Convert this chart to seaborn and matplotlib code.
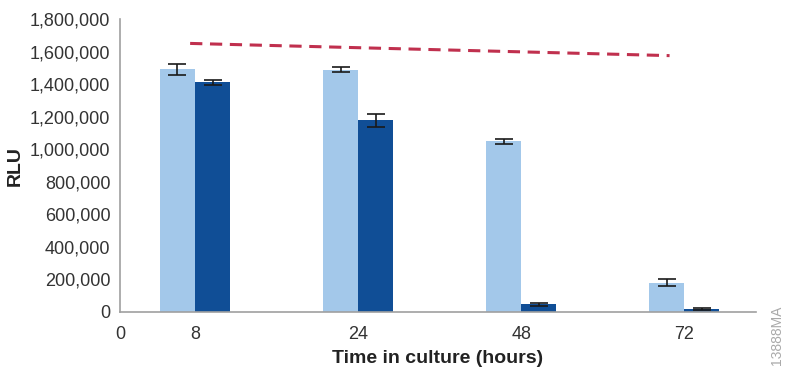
import pandas as pd
import seaborn as sns
import matplotlib.pyplot as plt
import matplotlib.ticker as ticker

# Data
hours = ['8', '24', '48', '72']
light_rlu = [1490000, 1488000, 1050000, 180000]
light_err = [32000, 15000, 15000, 22000]
dark_rlu = [1410000, 1178000, 48000, 17000]
dark_err = [16000, 40000, 10000, 6000]

# dashed reference line (category position, RLU)
line_pos = [-0.03, 2.91]
line_rlu = [1650000, 1575000]

light_col = '#A3C8EA'
dark_col = '#104E96'
line_col = '#C0304E'

df = pd.DataFrame({
    'hours': hours * 2,
    'rlu': light_rlu + dark_rlu,
    'series': ['a'] * 4 + ['b'] * 4,
})

sns.set_style('white')
plt.rcParams['font.family'] = ['Liberation Sans', 'DejaVu Sans']

fig = plt.figure(figsize=(7.85, 3.67), dpi=100)
ax = fig.add_axes([120 / 785, 1 - 312 / 367, (756 - 120) / 785, (312 - 19) / 367])

sns.barplot(data=df, x='hours', y='rlu', hue='series', order=hours,
            palette=[light_col, dark_col], width=0.43, errorbar=None,
            saturation=1, legend=False, linewidth=0, ax=ax)

# error bars, centred on each bar patch
errs = light_err + dark_err
for patch, val, err in zip(ax.patches, light_rlu + dark_rlu, errs):
    cx = patch.get_x() + patch.get_width() / 2
    ax.errorbar(cx, val, yerr=err, color='#1a1a1a', capsize=6.5, elinewidth=1.2,
                capthick=1.2)

ax.plot(line_pos, line_rlu, color=line_col, linestyle=(0, (4, 2.5)), linewidth=2.2)

ax.set_ylim(0, 1800000)
ax.set_xlim(-0.46, 3.44)
ax.yaxis.set_major_locator(ticker.MultipleLocator(200000))
ax.yaxis.set_major_formatter(ticker.StrMethodFormatter('{x:,.0f}'))
ax.set_xticks([-0.46, 0, 1, 2, 3])
ax.set_xticklabels(['0'] + hours)

for side in ['top', 'right']:
    ax.spines[side].set_visible(False)
for side in ['left', 'bottom']:
    ax.spines[side].set_color('#A0A0A0')
    ax.spines[side].set_linewidth(1.2)

ax.tick_params(axis='y', length=5, color='#A0A0A0', labelsize=13, labelcolor='#333333', pad=2)
ax.tick_params(axis='x', length=0, labelsize=13, labelcolor='#333333', pad=10)
ax.set_xlabel('Time in culture (hours)', fontsize=14, fontweight='bold', color='#222222', labelpad=5)
ax.set_ylabel('RLU', fontsize=14, fontweight='bold', color='#222222', labelpad=4)

fig.text(0.99, 0.005, '13888MA', rotation=90, fontsize=10, color='#AAAAAA',
         ha='center', va='bottom')

plt.savefig('out.png', dpi=100)
